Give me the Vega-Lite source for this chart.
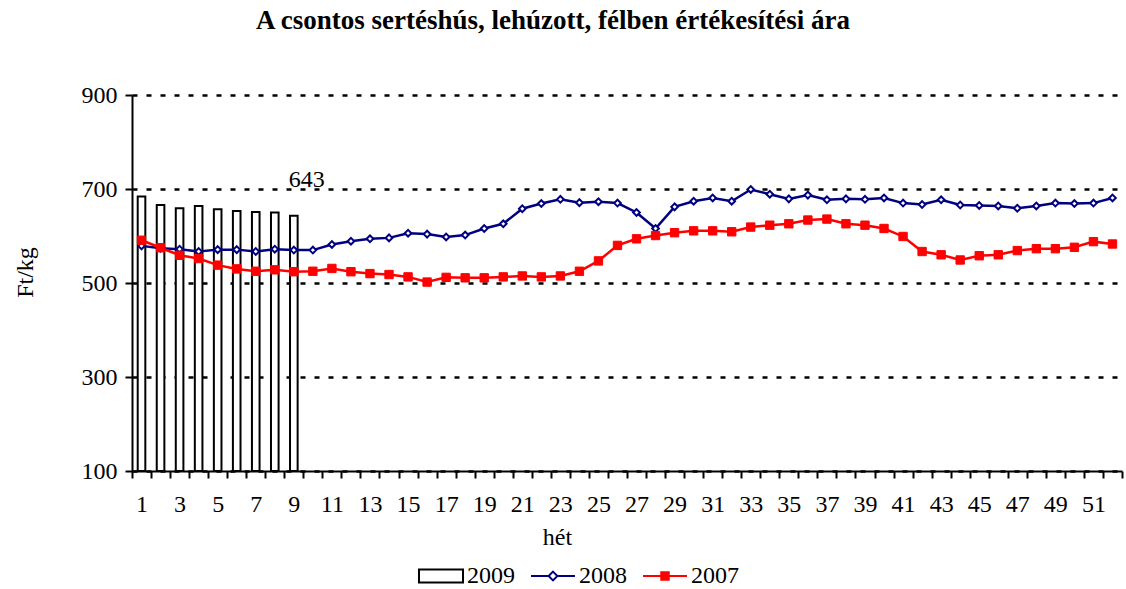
{
  "$schema": "https://vega.github.io/schema/vega-lite/v6.json",
  "autosize": "none",
  "width": 990,
  "height": 376,
  "padding": {"left": 132, "top": 95, "right": 4, "bottom": 118},
  "background": "white",
  "config": {"view": {"stroke": null}, "font": "Liberation Serif"},
  "title": {"text": "A csontos sertéshús, lehúzott, félben értékesítési ára", "anchor": "middle", "dx": -74, "offset": 48, "fontSize": 27, "fontWeight": "bold", "font": "Liberation Serif", "color": "black"},
  "data": {"values": [
    {"week":1,"series":"2009","value":684},{"week":2,"series":"2009","value":666},{"week":3,"series":"2009","value":659},{"week":4,"series":"2009","value":664},{"week":5,"series":"2009","value":657},{"week":6,"series":"2009","value":653},{"week":7,"series":"2009","value":651},{"week":8,"series":"2009","value":650},{"week":9,"series":"2009","value":643},
    {"week":1,"series":"2008","value":579},{"week":2,"series":"2008","value":574},{"week":3,"series":"2008","value":572},{"week":4,"series":"2008","value":567},{"week":5,"series":"2008","value":571},{"week":6,"series":"2008","value":571},{"week":7,"series":"2008","value":567},{"week":8,"series":"2008","value":572},{"week":9,"series":"2008","value":570},{"week":10,"series":"2008","value":570},
    {"week":11,"series":"2008","value":582},{"week":12,"series":"2008","value":589},{"week":13,"series":"2008","value":594},{"week":14,"series":"2008","value":596},{"week":15,"series":"2008","value":606},{"week":16,"series":"2008","value":604},{"week":17,"series":"2008","value":598},{"week":18,"series":"2008","value":602},{"week":19,"series":"2008","value":616},{"week":20,"series":"2008","value":626},
    {"week":21,"series":"2008","value":658},{"week":22,"series":"2008","value":669},{"week":23,"series":"2008","value":678},{"week":24,"series":"2008","value":671},{"week":25,"series":"2008","value":673},{"week":26,"series":"2008","value":670},{"week":27,"series":"2008","value":650},{"week":28,"series":"2008","value":616},{"week":29,"series":"2008","value":662},{"week":30,"series":"2008","value":674},
    {"week":31,"series":"2008","value":681},{"week":32,"series":"2008","value":674},{"week":33,"series":"2008","value":699},{"week":34,"series":"2008","value":689},{"week":35,"series":"2008","value":679},{"week":36,"series":"2008","value":687},{"week":37,"series":"2008","value":677},{"week":38,"series":"2008","value":679},{"week":39,"series":"2008","value":678},{"week":40,"series":"2008","value":681},
    {"week":41,"series":"2008","value":670},{"week":42,"series":"2008","value":667},{"week":43,"series":"2008","value":677},{"week":44,"series":"2008","value":666},{"week":45,"series":"2008","value":665},{"week":46,"series":"2008","value":664},{"week":47,"series":"2008","value":659},{"week":48,"series":"2008","value":664},{"week":49,"series":"2008","value":670},{"week":50,"series":"2008","value":669},
    {"week":51,"series":"2008","value":670},{"week":52,"series":"2008","value":681},
    {"week":1,"series":"2007","value":591},{"week":2,"series":"2007","value":575},{"week":3,"series":"2007","value":559},{"week":4,"series":"2007","value":552},{"week":5,"series":"2007","value":538},{"week":6,"series":"2007","value":530},{"week":7,"series":"2007","value":525},{"week":8,"series":"2007","value":528},{"week":9,"series":"2007","value":524},{"week":10,"series":"2007","value":525},
    {"week":11,"series":"2007","value":531},{"week":12,"series":"2007","value":524},{"week":13,"series":"2007","value":520},{"week":14,"series":"2007","value":518},{"week":15,"series":"2007","value":513},{"week":16,"series":"2007","value":502},{"week":17,"series":"2007","value":512},{"week":18,"series":"2007","value":511},{"week":19,"series":"2007","value":511},{"week":20,"series":"2007","value":513},
    {"week":21,"series":"2007","value":515},{"week":22,"series":"2007","value":513},{"week":23,"series":"2007","value":515},{"week":24,"series":"2007","value":525},{"week":25,"series":"2007","value":547},{"week":26,"series":"2007","value":580},{"week":27,"series":"2007","value":594},{"week":28,"series":"2007","value":601},{"week":29,"series":"2007","value":607},{"week":30,"series":"2007","value":611},
    {"week":31,"series":"2007","value":611},{"week":32,"series":"2007","value":609},{"week":33,"series":"2007","value":619},{"week":34,"series":"2007","value":623},{"week":35,"series":"2007","value":626},{"week":36,"series":"2007","value":634},{"week":37,"series":"2007","value":636},{"week":38,"series":"2007","value":626},{"week":39,"series":"2007","value":623},{"week":40,"series":"2007","value":616},
    {"week":41,"series":"2007","value":599},{"week":42,"series":"2007","value":567},{"week":43,"series":"2007","value":560},{"week":44,"series":"2007","value":549},{"week":45,"series":"2007","value":558},{"week":46,"series":"2007","value":560},{"week":47,"series":"2007","value":569},{"week":48,"series":"2007","value":573},{"week":49,"series":"2007","value":573},{"week":50,"series":"2007","value":576},
    {"week":51,"series":"2007","value":588},{"week":52,"series":"2007","value":583}
  ]},
  "encoding": {
    "x": {
      "field": "week", "type": "ordinal",
      "scale": {"domain": [1,2,3,4,5,6,7,8,9,10,11,12,13,14,15,16,17,18,19,20,21,22,23,24,25,26,27,28,29,30,31,32,33,34,35,36,37,38,39,40,41,42,43,44,45,46,47,48,49,50,51,52], "paddingInner": 0, "paddingOuter": 0},
      "axis": {
        "title": "hét", "titleFont": "Liberation Serif", "titleFontSize": 24, "titleFontWeight": "normal", "titleColor": "black",
        "titleX": 425, "titleY": 66, "titleBaseline": "middle", "titleAlign": "center",
        "labelExpr": "datum.value % 2 == 1 ? datum.label : ''", "labelAngle": 0,
        "labelFont": "Liberation Serif", "labelFontSize": 24, "labelColor": "black", "labelPadding": 14,
        "tickBand": "extent", "tickSize": 7, "tickWidth": 2, "tickColor": "black",
        "domainColor": "black", "domainWidth": 2, "grid": false, "labelOverlap": false
      }
    },
    "y": {
      "field": "value", "type": "quantitative",
      "scale": {"domain": [100, 900], "nice": false, "zero": false},
      "axis": {
        "title": "Ft/kg", "titleFont": "Liberation Serif", "titleFontSize": 24, "titleFontWeight": "normal", "titleColor": "black",
        "titleX": -95, "titleY": 177, "titleAngle": 270, "titleBaseline": "bottom", "titleAlign": "center",
        "values": [100, 300, 500, 700, 900],
        "labelFont": "Liberation Serif", "labelFontSize": 24, "labelColor": "black", "labelPadding": 8,
        "tickSize": 7, "tickWidth": 2, "tickColor": "black",
        "domainColor": "black", "domainWidth": 2,
        "grid": true, "gridColor": "black", "gridWidth": 2.5, "gridDash": [5, 9]
      }
    },
    "stroke": {
      "field": "series", "type": "nominal",
      "scale": {"domain": ["2009", "2008", "2007"], "range": ["#000000", "#000080", "#FF0000"]},
      "legend": {
        "title": null, "orient": "none", "direction": "horizontal", "legendX": 286, "legendY": 458,
        "labelFont": "Liberation Serif", "labelFontSize": 24, "labelColor": "black", "labelOffset": 3,
        "columnPadding": 12, "symbolStrokeWidth": 2, "symbolSize": 1936,
        "encode": {"symbols": {"update": {
          "shape": {"signal": "datum.value == '2009' ? 'M-1,-0.3H1V0.3H-1Z' : datum.value == '2008' ? 'M-1,0H-0.2M0.2,0H1M0,-0.2L0.2,0L0,0.2L-0.2,0Z' : 'M-1,0H1M-0.17,-0.17H0.17V0.17H-0.17Z'"},
          "fill": {"signal": "datum.value == '2007' ? '#FF0000' : '#FFFFFF'"},
          "fillOpacity": {"value": 1},
          "size": {"value": 1936},
          "strokeWidth": {"value": 2}
        }}}
      }
    }
  },
  "layer": [
    {
      "transform": [{"filter": "datum.series == '2009'"}],
      "mark": {"type": "bar", "fill": "white", "strokeWidth": 2, "width": {"band": 0.4}},
      "encoding": {"y2": {"datum": 100}}
    },
    {
      "transform": [{"filter": "datum.series != '2009'"}],
      "mark": {"type": "line", "strokeWidth": 2.5}
    },
    {
      "transform": [{"filter": "datum.series == '2008'"}],
      "mark": {"type": "point", "shape": "diamond", "filled": false, "fill": "white", "fillOpacity": 1, "size": 45, "strokeWidth": 2, "opacity": 1}
    },
    {
      "transform": [{"filter": "datum.series == '2007'"}],
      "mark": {"type": "point", "shape": "square", "filled": true, "fill": "#FF0000", "fillOpacity": 1, "size": 70, "strokeWidth": 1, "opacity": 1}
    },
    {
      "transform": [{"filter": "datum.series == '2009' && datum.week == 9"}],
      "mark": {"type": "text", "align": "center", "baseline": "alphabetic", "dx": 13, "dy": -29, "fontSize": 24, "font": "Liberation Serif", "color": "black"},
      "encoding": {"text": {"field": "value", "type": "quantitative"}, "stroke": {"value": null}}
    }
  ]
}
